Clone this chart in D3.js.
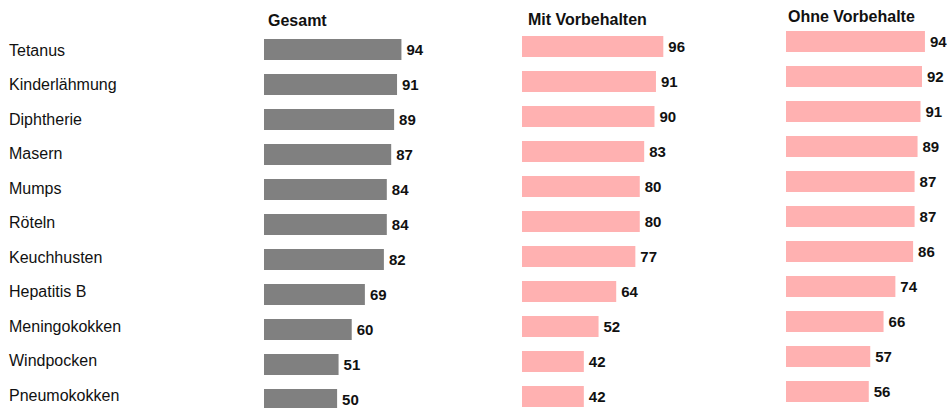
<!DOCTYPE html>
<html>
<head>
<meta charset="utf-8">
<script src="https://cdn.jsdelivr.net/npm/d3@7"></script>
<style>
  body { margin: 0; background: #fff; }
  text { font-family: "Liberation Sans", Arial, sans-serif; }
</style>
</head>
<body>
<svg id="board" width="948" height="408"></svg>
<script>
let categories = ['Tetanus', 'Kinderlähmung', 'Diphtherie', 'Masern', 'Mumps', 'Röteln',
  'Keuchhusten', 'Hepatitis B', 'Meningokokken', 'Windpocken', 'Pneumokokken']
let titles = ['Gesamt', 'Mit Vorbehalten', 'Ohne Vorbehalte']
let gesamt = [94, 91, 89, 87, 84, 84, 82, 69, 60, 51, 50]
let mitVorbehalten = [96, 91, 90, 83, 80, 80, 77, 64, 52, 42, 42]
let ohneVorbehalte = [94, 92, 91, 89, 87, 87, 86, 74, 66, 57, 56]

let board = d3.select('#board')

// panel layout: left edge, top of first bar, title pos, colour
let panels = [
  { values: gesamt, x0: 264, top: 39, tx: 268, ty: 26, color: '#808080', k: 1.462 },
  { values: mitVorbehalten, x0: 522, top: 36, tx: 528, ty: 25, color: '#ffb1b1', k: 1.472 },
  { values: ohneVorbehalte, x0: 786, top: 31, tx: 788, ty: 22, color: '#ffb1b1', k: 1.478 }
]

let labelY = d3.scalePoint().domain(categories).range([50, 395])

board.selectAll('text.cat')
  .data(categories)
  .enter()
  .append('text')
  .attr('class', 'cat')
  .attr('x', 9)
  .attr('y', (d) => labelY(d))
  .attr('dy', '0.36em')
  .style('font-size', '16px')
  .style('fill', '#111')
  .text((d) => d)

panels.forEach((p, i) => {
  let x = d3.scaleLinear().domain([0, 100]).range([p.x0, p.x0 + 100 * p.k])
  let y = d3.scaleBand().domain(categories)
    .range([p.top, p.top + 35 * categories.length])
    .paddingInner(0.4).paddingOuter(0).align(0)
  // band step 35 with bar height ~21
  y.range([p.top, p.top + 35 * categories.length - 14])

  let g = board.append('g')

  g.append('text')
    .attr('x', p.tx)
    .attr('y', p.ty)
    .style('font-size', '16px')
    .style('font-weight', 'bold')
    .style('fill', '#111')
    .text(titles[i])

  g.selectAll('rect')
    .data(p.values)
    .enter()
    .append('rect')
    .attr('x', x(0))
    .attr('y', (d, j) => y(categories[j]))
    .attr('width', (d) => x(d) - x(0))
    .attr('height', y.bandwidth())
    .attr('fill', p.color)

  g.selectAll('text.val')
    .data(p.values)
    .enter()
    .append('text')
    .attr('class', 'val')
    .attr('x', (d) => x(d) + 5)
    .attr('y', (d, j) => y(categories[j]) + y.bandwidth() / 2)
    .attr('dy', '0.36em')
    .style('font-size', '15px')
    .style('font-weight', 'bold')
    .style('fill', '#111')
    .text((d) => d)
})
</script>
</body>
</html>
